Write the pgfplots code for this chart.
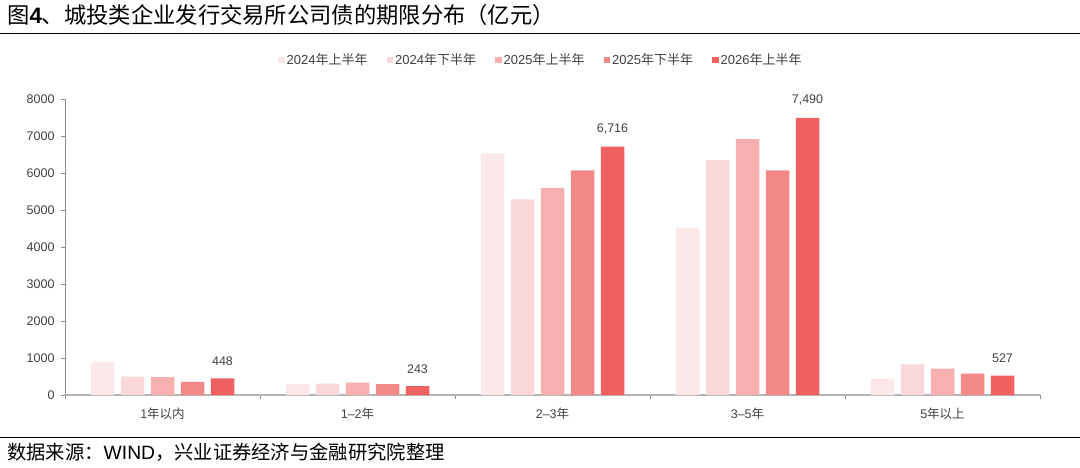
\documentclass[border=0pt]{standalone}
\usepackage{fontspec}
\setmainfont{Liberation Sans}
\newfontfamily\cjk{Noto Sans CJK SC}
\usepackage{pgfplots}
\pgfplotsset{compat=1.18}
\definecolor{c1}{HTML}{FCE8E9}
\definecolor{c2}{HTML}{FAD7D8}
\definecolor{c3}{HTML}{F7AFB0}
\definecolor{c4}{HTML}{F38889}
\definecolor{c5}{HTML}{EF6061}
\definecolor{txt}{HTML}{404040}
\definecolor{xax}{HTML}{B4B4B4}
\definecolor{yax}{HTML}{8C8C8C}
\begin{document}
\begin{tikzpicture}[x=1pt,y=1pt]
\path[use as bounding box] (0,0) rectangle (1080,467);
\node[anchor=west, inner sep=0, font=\fontsize{22.3}{25}\selectfont] at (7,451.5) {{\cjk 图}{\bfseries 4}{\cjk 、城投类企业发行交易所公司债的期限分布（亿元）}};
\draw[line width=1.3pt] (0,433.5) -- (1080,433.5);
\draw[line width=0.8pt] (0,30) -- (1080,30);
\node[anchor=west, inner sep=0, font=\fontsize{19.3}{21}\selectfont] at (7,15) {{\cjk 数据来源：}WIND{\cjk ，兴业证券经济与金融研究院整理}};
\begin{axis}[
  at={(65pt,72pt)}, anchor=south west,
  scale only axis, width=975pt, height=296pt,
  xmin=-0.5, xmax=4.5, ymin=0, ymax=8000,
  ybar=6.5pt, bar width=23.5pt,
  separate axis lines,
  axis x line=bottom, axis y line=left,
  x axis line style={-, draw=xax, line width=1.6pt},
  y axis line style={-, draw=yax, line width=0.8pt},
  tick align=outside,
  major tick length=4pt, minor tick length=4pt,
  xtick={0,1,2,3,4},
  xticklabels={{1{\cjk 年以内}},{1--2{\cjk 年}},{2--3{\cjk 年}},{3--5{\cjk 年}},{5{\cjk 年以上}}},
  major x tick style={draw=none},
  minor xtick={-0.5,0.5,1.5,2.5,3.5,4.5},
  minor x tick style={draw=yax, line width=0.8pt},
  ytick={0,1000,...,8000},
  y tick style={draw=yax, line width=0.8pt},
  scaled y ticks=false,
  /pgf/number format/assume math mode=true,
  y tick label style={/pgf/number format/1000 sep={}, xshift=-3pt},
  x tick label style={yshift=-5pt},
  tick label style={font=\fontsize{12.5}{14}\selectfont, text=txt},
  legend image code/.code={\fill[#1] (0pt,-3.3pt) rectangle (6.6pt,3.3pt);},
  legend style={at={(0.488,1.132)}, anchor=center, draw=none, fill=none,
    legend columns=5, font=\fontsize{13}{15}\selectfont, text=txt,
    /tikz/every even column/.append style={column sep=17pt},
    /tikz/every odd column/.append style={column sep=0pt},
    inner sep=0pt},
  legend cell align=left,
]
\addplot[fill=c1, draw=none] coordinates {(0,880) (1,297) (2,6530) (3,4525) (4,440)};
\addplot[fill=c2, draw=none] coordinates {(0,500) (1,305) (2,5290) (3,6350) (4,826)};
\addplot[fill=c3, draw=none] coordinates {(0,486) (1,332) (2,5598) (3,6915) (4,710)};
\addplot[fill=c4, draw=none] coordinates {(0,358) (1,297) (2,6068) (3,6070) (4,575)};
\addplot[fill=c5, draw=none,
  nodes near coords={\pgfmathprintnumber[1000 sep={,}, assume math mode=true]{\pgfplotspointmeta}},
  nodes near coords style={anchor=south, yshift=9pt, font=\fontsize{12.5}{14}\selectfont, text=txt}]
  coordinates {(0,448) (1,243) (2,6716) (3,7490) (4,527)};
\legend{{2024{\cjk 年上半年}},{2024{\cjk 年下半年}},{2025{\cjk 年上半年}},{2025{\cjk 年下半年}},{2026{\cjk 年上半年}}}
\end{axis}
\end{tikzpicture}
\end{document}
